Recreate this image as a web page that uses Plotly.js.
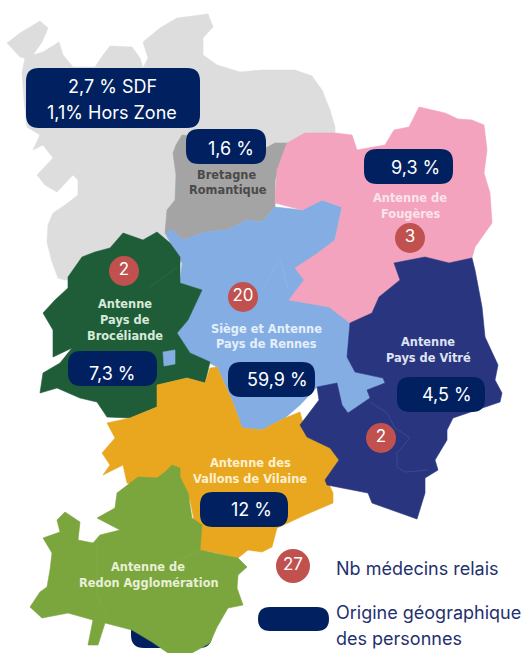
<!DOCTYPE html>
<html><head><meta charset="utf-8">
<script src="https://cdn.plot.ly/plotly-3.0.1.min.js"></script>
<style>html,body{margin:0;padding:0;background:#fff}#c{width:524px;height:653px}</style>
</head><body><div id="c"></div>
<script>
// Region outlines (x, y in picture units)
const regionHorsZone = [[7,43],[20,33],[40,21],[48,28],[42,42],[33,55],[43,52],[59,42],[63,55],[73,67],[95,67],[103,55],[110,46],[132,47],[140,58],[143,68],[148,58],[143,42],[160,28],[177,18],[208,14],[213,27],[203,38],[203,55],[217,65],[240,72],[262,70],[295,70],[312,76],[322,90],[330,110],[335,127],[335,140],[290,150],[280,200],[200,260],[65,280],[58,278],[52,262],[47,242],[48,225],[53,213],[65,205],[78,195],[78,180],[73,175],[57,192],[45,185],[37,175],[53,158],[43,145],[33,150],[40,135],[27,127],[24,100],[22,73],[25,58],[20,57]];
const regionBretagne = [[182,135],[176,145],[173,153],[176,175],[175,200],[167,210],[165,233],[183,240],[205,232],[227,230],[247,220],[262,222],[275,207],[275,180],[282,160],[287,143],[275,143],[262,150],[230,140]];
const regionRennes = [[165,233],[173,230],[183,240],[205,232],[227,230],[247,220],[262,222],[275,207],[302,210],[322,200],[342,207],[335,240],[350,323],[347,357],[355,372],[383,378],[385,383],[367,390],[370,398],[348,413],[342,405],[337,383],[317,387],[300,405],[285,418],[262,430],[242,428],[233,403],[217,367],[190,353],[177,333],[188,320],[202,290],[180,283],[182,263]];
const regionFougeres = [[287,143],[305,133],[335,133],[352,135],[357,150],[385,145],[394,130],[409,127],[419,107],[432,110],[445,113],[458,119],[472,120],[484,125],[487,150],[484,173],[490,193],[492,223],[475,247],[472,258],[449,263],[425,257],[394,263],[400,280],[379,297],[372,313],[350,323],[329,307],[289,300],[304,280],[295,268],[315,255],[335,240],[342,207],[322,200],[302,210],[275,203],[277,170]];
const regionBroceliande = [[43,313],[55,300],[68,288],[68,277],[82,257],[95,252],[110,248],[123,233],[143,240],[157,232],[170,243],[180,257],[180,283],[202,290],[188,320],[177,333],[190,353],[210,362],[205,383],[187,378],[157,385],[157,407],[130,418],[107,417],[97,402],[80,398],[57,388],[40,393],[43,373],[60,363],[72,348],[53,357],[53,330]];
const regionIlot = [[163,352],[175,350],[175,364],[164,366]];
const regionVitre = [[394,263],[425,257],[449,263],[472,258],[475,270],[482,307],[485,337],[498,365],[495,380],[502,393],[500,402],[453,418],[447,430],[447,440],[435,460],[438,470],[425,478],[425,493],[417,519],[372,503],[368,493],[327,485],[325,480],[339,460],[330,448],[307,437],[300,425],[319,400],[317,387],[337,383],[342,405],[348,413],[370,398],[367,390],[385,383],[383,378],[355,372],[347,357],[350,323],[372,313],[379,297],[400,280]];
const regionVallons = [[107,423],[130,418],[157,407],[157,385],[187,378],[205,383],[210,368],[217,367],[233,403],[242,428],[262,430],[285,418],[300,412],[307,437],[330,448],[339,460],[327,480],[333,493],[333,503],[305,515],[277,528],[272,547],[262,552],[248,550],[238,558],[217,553],[200,550],[190,500],[127,483],[123,465],[103,475],[110,465],[102,453],[115,438]];
const regionRedon = [[172,465],[180,468],[180,477],[188,493],[192,518],[202,525],[200,550],[238,558],[247,567],[238,575],[237,588],[243,605],[228,608],[217,627],[210,643],[192,653],[168,653],[152,642],[132,630],[105,623],[98,645],[88,645],[93,620],[68,613],[42,618],[30,607],[40,592],[47,587],[50,570],[52,553],[43,538],[60,532],[57,520],[65,512],[80,522],[78,540],[93,543],[100,535],[120,530],[97,518],[115,508],[117,493],[138,477],[157,478],[165,472]];
const riverVitre = [[370,402],[387,413],[395,428],[410,438],[397,453],[397,467],[405,472],[428,470]];
const lineRedon = [[97,543],[97,595],[107,617]];
const lineRedonEast = [[180,560],[200,550]];
const lineBroceliande = [[150,287],[177,267]];
const lineRennes = [[262,290],[280,258],[288,290]];

const regionColors = {horsZone:'#dddddd',bretagne:'#a4a4a4',rennes:'#84aee3',fougeres:'#f3a3bd',broceliande:'#1f5d39',vitre:'#29357f',vallons:'#e9a71f',redon:'#7ba53d'};

// Share of people by area (pills)
const pillLabels = ['1,6 %','9,3 %','7,3 %','59,9 %','4,5 %','12 %'];
const pillX = [231,415,112,277,447,251];
const pillY = [148,167,373,379,394,509];
const pillBoxes = [[186,129,266,164],[364,149,453,184],[68,351,157,386],[228,362,315,397],[397,377,485,412],[200,492,288,527],[26,68,200,128],[258,607,329,631]];
const hiddenPill = [131,613,212,648];
const summaryLines = ['2,7 % SDF','1,1% Hors Zone'];

// Relay doctors (circles)
const doctorCounts = [2,20,3,2];
const doctorX = [124,243,410,381];
const doctorY = [271,297,238,438];

const areaLabels = [
 ['Bretagne',226,175,'#4a4a4a'],['Romantique',228,190,'#4a4a4a'],
 ['Antenne de',410,198,'#fbe3ec'],['Fougères',410,214,'#fbe3ec'],
 ['Antenne',125,304,'#d8ead9'],['Pays de',125,320,'#d8ead9'],['Brocéliande',125,336,'#d8ead9'],
 ['Siège et Antenne',266,329,'#e4effb'],['Pays de Rennes',266,344,'#e4effb'],
 ['Antenne',428,342,'#dfe3f3'],['Pays de Vitré',428,358,'#dfe3f3'],
 ['Antenne des',250,463,'#fdf0cf'],['Vallons de Vilaine',250,479,'#fdf0cf'],
 ['Antenne de',148,567,'#e7f0d6'],['Redon Agglomération',149,583,'#e7f0d6']
];
const legendLines = [['Nb médecins relais',334,568],['Origine géographique',334,612],['des personnes',334,638]];
const legendCount = 27, legendCountX = 293, legendCountY = 566;

const pillColor = '#012060', circleColor = '#c0514f', legendText = '#1f3170';
const FONT = 'Inter, "Open Sans", sans-serif';
const LABEL_FONT = '"DejaVu Sans", sans-serif';

function area(pts,color){
  return {type:'scatter',mode:'lines',x:pts.concat([pts[0]]).map(p=>p[0]),y:pts.concat([pts[0]]).map(p=>p[1]),
    fill:'toself',fillcolor:color,line:{width:0.6,color:color},hoverinfo:'skip',showlegend:false};
}
function thin(pts,color){
  return {type:'scatter',mode:'lines',x:pts.map(p=>p[0]),y:pts.map(p=>p[1]),line:{width:1,color:color},hoverinfo:'skip',showlegend:false};
}
function pill(b,layer){
  const [l,t,r,bm]=b, k=Math.min(13,(bm-t)/2);
  return {type:'path',xref:'x',yref:'y',layer:layer,fillcolor:pillColor,line:{width:0},
   path:`M${l+k},${t}L${r-k},${t}Q${r},${t} ${r},${t+k}L${r},${bm-k}Q${r},${bm} ${r-k},${bm}L${l+k},${bm}Q${l},${bm} ${l},${bm-k}L${l},${t+k}Q${l},${t} ${l+k},${t}Z`};
}
function note(text,x,y,size,color,anchor,weight,family){
  return {text:text,x:x,y:y,xref:'x',yref:'y',showarrow:false,xanchor:anchor||'center',yanchor:'middle',
    font:{family:family||FONT,size:size,color:color,weight:weight||400}};
}
const c=regionColors;
const traces=[
 area(regionHorsZone,c.horsZone),
 area(regionBretagne,c.bretagne),
 area(regionRennes,c.rennes),
 area(regionFougeres,c.fougeres),
 area(regionBroceliande,c.broceliande),
 area(regionIlot,c.rennes),
 area(regionVallons,c.vallons),
 area(regionVitre,c.vitre),
 area(regionRedon,c.redon),
 thin(riverVitre,'#3a4993'),
 thin(lineRedon,'#82aa46'),
 thin(lineRedonEast,'#82aa46'),
 thin(lineBroceliande,'#2c6845'),
 thin(lineRennes,'#8db4e6'),
 {type:'scatter',mode:'markers+text',x:doctorX,y:doctorY,text:doctorCounts.map(String),textposition:'middle center',
  marker:{size:30,color:circleColor},textfont:{family:FONT,size:17,color:'#fff'},hoverinfo:'skip',showlegend:false},
 {type:'scatter',mode:'markers+text',x:[legendCountX],y:[legendCountY],text:[String(legendCount)],textposition:'middle center',
  marker:{size:34,color:circleColor},textfont:{family:FONT,size:17,color:'#fff'},hoverinfo:'skip',showlegend:false}
];
const annotations=[
 note(summaryLines[0],112,86,18,'#fff'),note(summaryLines[1],112,112,18,'#fff')
].concat(pillLabels.map((t,i)=>note(t,pillX[i],pillY[i],18,'#fff')))
 .concat(areaLabels.map(a=>note(a[0],a[1],a[2],11.4,a[3],'center',700,LABEL_FONT)))
 .concat(legendLines.map(a=>note(a[0],a[1],a[2],18,legendText,'left')));
const shapes=[pill(hiddenPill,'below')].concat(pillBoxes.map(b=>pill(b,'above')));
const hiddenAxis=r=>({range:r,visible:false,fixedrange:true});
Plotly.newPlot('c',traces,{
  width:524,height:653,margin:{l:0,r:0,t:0,b:0},paper_bgcolor:'#fff',plot_bgcolor:'rgba(0,0,0,0)',
  xaxis:hiddenAxis([0,524]),yaxis:hiddenAxis([653,0]),showlegend:false,shapes:shapes,annotations:annotations
},{displayModeBar:false,staticPlot:true});
</script></body></html>
